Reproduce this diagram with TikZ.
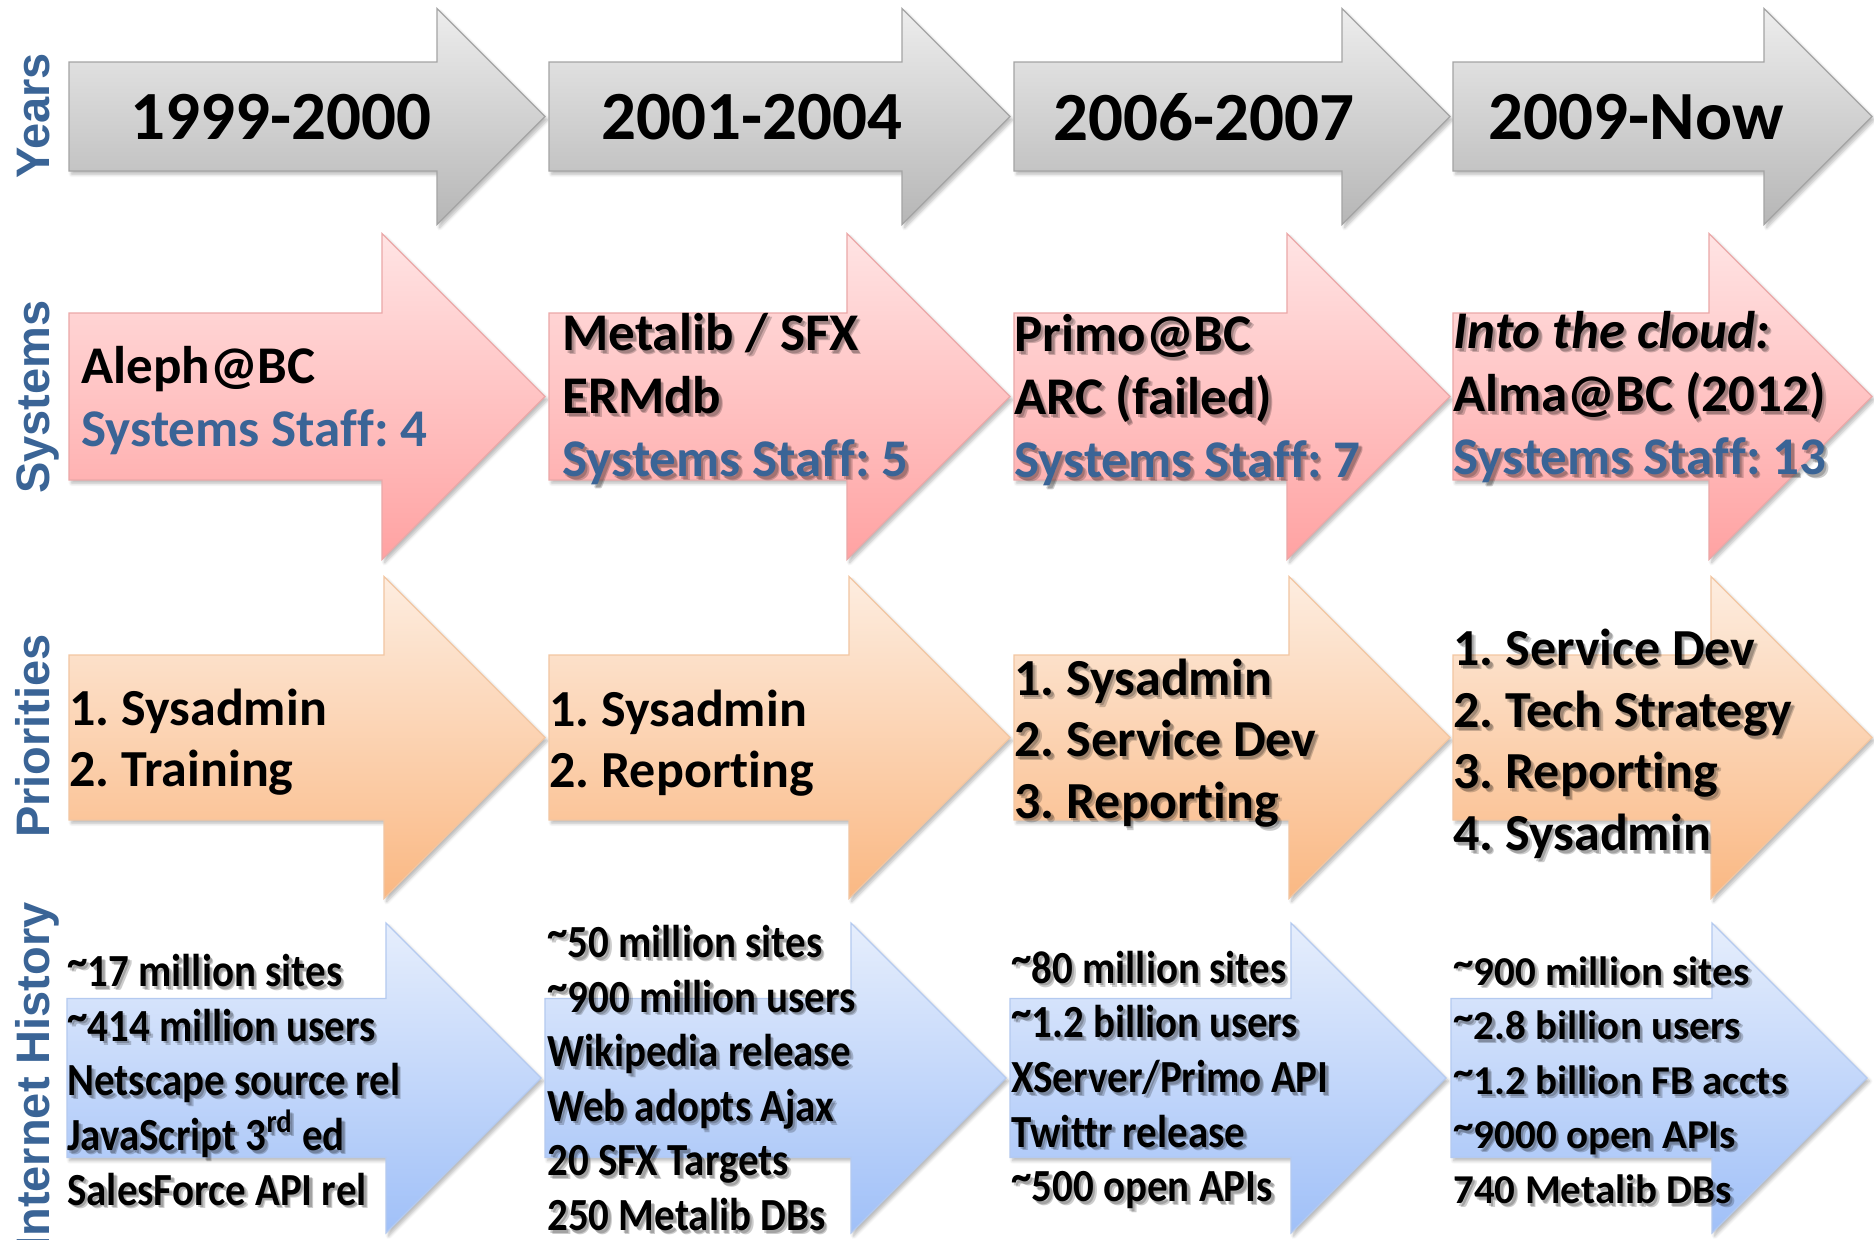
\documentclass[tikz,border=0pt]{standalone}
\usepackage{fontspec}
\setmainfont{Carlito}[Ligatures=NoCommon]
\newfontfamily\condfont[FakeStretch=0.89,Ligatures=NoCommon]{Carlito}
\newfontfamily\lblfont{Liberation Sans}
\usetikzlibrary{shadows.blur}
\frenchspacing

\definecolor{lblblue}{HTML}{3A6496}
\definecolor{staffblue}{HTML}{3A6496}
\definecolor{grayTop}{HTML}{EDEDED}
\definecolor{grayBot}{HTML}{B6B6B6}
\definecolor{grayLine}{HTML}{A4A4A4}
\definecolor{pinkTop}{HTML}{FFE4E4}
\definecolor{pinkBot}{HTML}{FFA2A2}
\definecolor{pinkLine}{HTML}{EBA8A8}
\definecolor{peachTop}{HTML}{FDEDE0}
\definecolor{peachBot}{HTML}{FAB883}
\definecolor{peachLine}{HTML}{F2C6A2}
\definecolor{skyTop}{HTML}{E6EEFC}
\definecolor{skyBot}{HTML}{A0C0F8}
\definecolor{skyLine}{HTML}{B4CAF0}

% raised tilde as used in the statistics
\newcommand{\tl}{\raisebox{0.22em}{\textasciitilde}}
\newcommand{\staff}[1]{{\color{staffblue}#1}}
\newcommand{\plainstaff}[1]{#1}

% block arrow: style, left x, tip x, mid y, body half height, head half height
\newcommand{\blockarrow}[6]{%
  \path[#1] (#2,#4-#5) -- (#3-#6,#4-#5) -- (#3-#6,#4-#6) -- (#3,#4)
    -- (#3-#6,#4+#6) -- (#3-#6,#4+#5) -- (#2,#4+#5) -- cycle;}

% text with a soft drop shadow: name, position, style, content
\newcommand{\stext}[4]{%
  \node[#3, shadowcopy, xshift=1.9pt, yshift=-1.9pt] (#1-s2) at (#2) {#4};
  \node[#3, shadowcopy, xshift=1.2pt, yshift=-1.3pt] (#1-s1) at (#2) {#4};
  \node[#3] (#1) at (#2) {#4};}

\tikzset{
  arrowbase/.style={line width=0.6pt, blur shadow={shadow xshift=1.3pt,
      shadow yshift=-1.6pt, shadow opacity=28, shadow blur radius=1.6pt,
      shadow blur steps=6}},
  yeararrow/.style={arrowbase, draw=grayLine, top color=grayTop, bottom color=grayBot},
  sysarrow/.style={arrowbase, draw=pinkLine, top color=pinkTop, bottom color=pinkBot},
  priarrow/.style={arrowbase, draw=peachLine, top color=peachTop, bottom color=peachBot},
  netarrow/.style={arrowbase, draw=skyLine, top color=skyTop, bottom color=skyBot},
  shadowcopy/.style={text=black, text opacity=0.2,
      execute at begin node={\let\staff\plainstaff}},
  yeartxt/.style={inner sep=0pt, anchor=center,
      font=\fontsize{34.5}{40}\selectfont\bfseries},
  systxt/.style={inner sep=0pt, anchor=west, align=left,
      font=\fontsize{26.5}{31.5}\selectfont\bfseries},
  pritxt/.style={inner sep=0pt, anchor=west, align=left,
      font=\fontsize{26}{30.75}\selectfont\bfseries},
  nettxt/.style={inner sep=0pt, anchor=west, align=left,
      font=\fontsize{20.5}{27.3}\selectfont\bfseries},
  netcond/.style={inner sep=0pt, anchor=west, align=left,
      font=\condfont\fontsize{23}{27.3}\selectfont\bfseries},
  lbl/.style={inner sep=0pt, anchor=base, rotate=90, text=lblblue,
      font=\lblfont\fontsize{23.5}{28}\selectfont\bfseries},
}

\begin{document}
\begin{tikzpicture}[x=0.5pt, y=-0.5pt]
  \useasboundingbox (0,0) rectangle (1874,1239);
  \clip (0,0) rectangle (1874,1239);

  % row 1: years
  \blockarrow{yeararrow}{69}{545}{116.5}{54.5}{108}
  \blockarrow{yeararrow}{549}{1010}{116.5}{54.5}{108}
  \blockarrow{yeararrow}{1014}{1450}{116.5}{54.5}{108}
  \blockarrow{yeararrow}{1453}{1872}{116.5}{54.5}{108}

  % row 2: systems
  \blockarrow{sysarrow}{69}{545}{396.5}{83.5}{163}
  \blockarrow{sysarrow}{549}{1010}{396.5}{83.5}{163}
  \blockarrow{sysarrow}{1014}{1450}{396.5}{83.5}{163}
  \blockarrow{sysarrow}{1453}{1872}{396.5}{83.5}{163}

  % row 3: priorities
  \blockarrow{priarrow}{69}{545}{737.5}{82.5}{161}
  \blockarrow{priarrow}{549}{1010}{737.5}{82.5}{161}
  \blockarrow{priarrow}{1014}{1450}{737.5}{82.5}{161}
  \blockarrow{priarrow}{1453}{1872}{737.5}{82.5}{161}

  % row 4: internet history
  \blockarrow{netarrow}{67}{541}{1078}{79.5}{155}
  \blockarrow{netarrow}{545}{1006}{1078}{79.5}{155}
  \blockarrow{netarrow}{1010}{1446}{1078}{79.5}{155}
  \blockarrow{netarrow}{1451}{1867}{1078}{79.5}{155}

  % row labels
  \node[lbl] (l1) at (49,116) {Years};
  \node[lbl] (l2) at (49,397) {Systems};
  \node[lbl] (l3) at (49,736) {Priorities};
  \node[lbl] (l4) at (49,1076) {Internet History};

  % years
  \node[yeartxt] (y1) at (281,117) {1999-2000};
  \node[yeartxt] (y2) at (752,117) {2001-2004};
  \node[yeartxt] (y3) at (1204,117) {2006-2007};
  \node[yeartxt] (y4) at (1636,117) {2009-Now};

  % systems
  \node[systxt] (s1) at (81,401) {Aleph@BC\\\staff{Systems Staff: 4}};
  \stext{s2}{562,399}{systxt}{Metalib / SFX\\ERMdb\\\staff{Systems Staff: 5}}
  \stext{s3}{1014,400}{systxt}{Primo@BC\\ARC (failed)\\\staff{Systems Staff: 7}}
  \stext{s4}{1453,397}{systxt}{\textit{Into the cloud:}\\Alma@BC (2012)\\\staff{Systems Staff: 13}}

  % priorities
  \node[pritxt] (p1) at (69,742) {1. Sysadmin\\2. Training};
  \node[pritxt] (p2) at (549,743) {1. Sysadmin\\2. Reporting};
  \stext{p3}{1014,743}{pritxt}{1. Sysadmin\\2. Service Dev\\3. Reporting}
  \stext{p4}{1453,744}{pritxt}{1. Service Dev\\2. Tech Strategy\\3. Reporting\\4. Sysadmin}

  % internet history
  \stext{n1}{67,1080}{netcond}{\tl 17 million sites\\\tl 414 million users\\Netscape source rel\\JavaScript 3\textsuperscript{rd} ed\\SalesForce API rel}
  \stext{n2}{547,1078}{netcond}{\tl 50 million sites\\\tl 900 million users\\Wikipedia release\\Web adopts Ajax\\20 SFX Targets\\250 Metalib DBs}
  \stext{n3}{1011,1080}{netcond}{\tl 80 million sites\\\tl 1.2 billion users\\XServer/Primo API\\Twittr release\\\tl 500 open APIs}
  \stext{n4}{1453,1080}{nettxt}{\tl 900 million sites\\\tl 2.8 billion users\\\tl 1.2 billion FB accts\\\tl 9000 open APIs\\740 Metalib DBs}
\end{tikzpicture}
\end{document}
